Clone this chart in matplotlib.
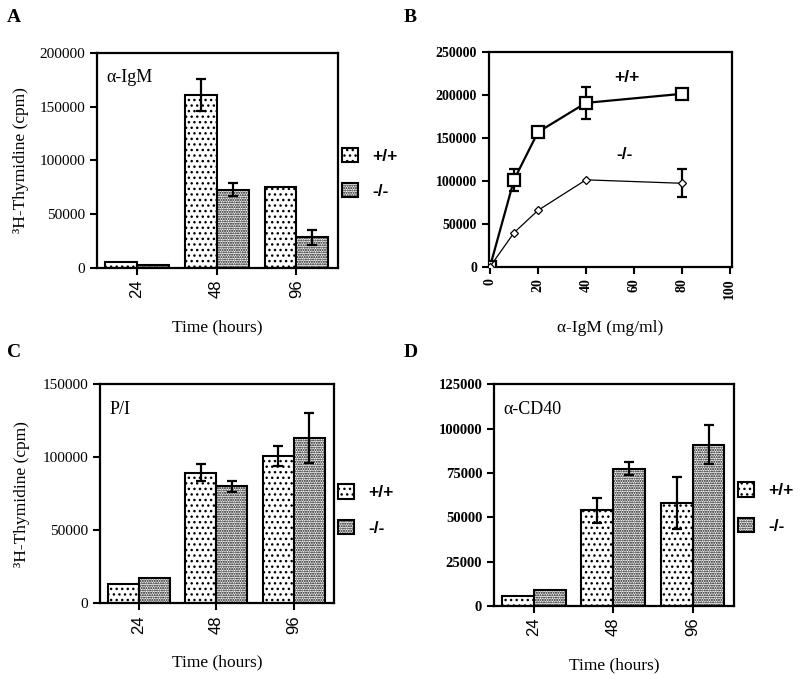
import numpy as np
import matplotlib
matplotlib.use('Agg')
import matplotlib.pyplot as plt
from matplotlib.patches import Patch

plt.rcParams['font.family'] = ['Liberation Serif', 'DejaVu Serif']
plt.rcParams['hatch.linewidth'] = 1.0

# time course data (cpm)
times = ['24', '48', '96']
igm_wt = [5500, 161000, 75000]
igm_wt_err = [0, 15000, 0]
igm_ko = [2500, 73000, 28500]
igm_ko_err = [0, 6000, 7000]

pi_wt = [13500, 89500, 101000]
pi_wt_err = [0, 6000, 7000]
pi_ko = [17500, 80000, 113000]
pi_ko_err = [0, 4000, 17000]

cd40_wt = [5800, 54000, 58000]
cd40_wt_err = [0, 7000, 14500]
cd40_ko = [9200, 77500, 91000]
cd40_ko_err = [0, 3500, 11000]

# dose response data
dose = [0, 10, 20, 40, 80]
dose_wt = [0, 101000, 156500, 190500, 201000]
dose_wt_err = [0, 12500, 0, 18500, 0]
dose_ko = [0, 39500, 65500, 101000, 97000]
dose_ko_err = [0, 0, 0, 0, 16500]

WT_HATCH = '...'
KO_HATCH = '.......'


def style_axes(ax):
    for s in ax.spines.values():
        s.set_linewidth(1.6)
    ax.tick_params(direction='out', length=5, width=1.5)


def bar_panel(ax, wt, wt_err, ko, ko_err, ylim, ystep, tag, ylab_x, leg_y, tick_fs, tick_bold):
    x = np.arange(len(times))
    w = 0.4
    ax.bar(x - w / 2, wt, w, color='white', edgecolor='black', linewidth=1.5, hatch=WT_HATCH)
    ax.bar(x + w / 2, ko, w, color='white', edgecolor='black', linewidth=1.5, hatch=KO_HATCH)
    wt_e = np.array(wt_err)
    ko_e = np.array(ko_err)
    m = wt_e > 0
    ax.errorbar((x - w / 2)[m], np.array(wt)[m], yerr=wt_e[m], fmt='none', ecolor='black',
                elinewidth=1.6, capsize=3.3, capthick=1.6, zorder=5)
    m = ko_e > 0
    ax.errorbar((x + w / 2)[m], np.array(ko)[m], yerr=ko_e[m], fmt='none', ecolor='black',
                elinewidth=1.6, capsize=3.3, capthick=1.6, zorder=5)
    ax.set_xlim(-0.5, 2.52)
    ax.set_ylim(0, ylim)
    ax.set_yticks(np.arange(0, ylim + 1, ystep))
    ax.set_xticks(x)
    ax.set_xticklabels(times, rotation=90, family='Liberation Sans', fontsize=12)
    for t in ax.get_yticklabels():
        t.set_fontsize(tick_fs)
        if tick_bold:
            t.set_fontweight('bold')
    style_axes(ax)
    ax.set_xlabel('Time (hours)', fontsize=12.5, labelpad=15)
    if ylab_x is not None:
        ax.set_ylabel('³H-Thymidine (cpm)', fontsize=12.5)
        ax.yaxis.set_label_coords(ylab_x, 0.5)
    ax.text(0.04, 0.865, tag, transform=ax.transAxes, fontsize=13)
    handles = [Patch(facecolor='white', edgecolor='black', linewidth=1.5, hatch=WT_HATCH),
               Patch(facecolor='white', edgecolor='black', linewidth=1.5, hatch=KO_HATCH)]
    ax.legend(handles, ['+/+', '-/-'], loc='center left', bbox_to_anchor=(1.015, leg_y),
              frameon=False, borderpad=0, borderaxespad=0, handlelength=0.95,
              handleheight=0.9, handletextpad=0.8, labelspacing=1.1,
              prop={'family': 'Liberation Sans', 'weight': 'bold', 'size': 12.5})


fig = plt.figure(figsize=(8, 6.74), dpi=100)

axA = fig.add_axes([0.121, 0.6024, 0.3015, 0.319])
bar_panel(axA, igm_wt, igm_wt_err, igm_ko, igm_ko_err, 200000, 50000,
          'α-IgM', -0.28, 0.44, 11, False)

axB = fig.add_axes([0.611, 0.6043, 0.3035, 0.319])
dw = np.array(dose_wt_err)
dk = np.array(dose_ko_err)
axB.plot(dose, dose_wt, color='black', linewidth=1.6, marker='s', markersize=8.5,
         markerfacecolor='white', markeredgecolor='black', markeredgewidth=1.6, zorder=4)
axB.plot(dose, dose_ko, color='black', linewidth=0.9, marker='D', markersize=4,
         markerfacecolor='white', markeredgecolor='black', markeredgewidth=0.9, zorder=4)
m = dw > 0
axB.errorbar(np.array(dose)[m], np.array(dose_wt)[m], yerr=dw[m], fmt='none', ecolor='black',
             elinewidth=1.6, capsize=3.5, capthick=1.6, zorder=3)
m = dk > 0
axB.errorbar(np.array(dose)[m], np.array(dose_ko)[m], yerr=dk[m], fmt='none', ecolor='black',
             elinewidth=1.6, capsize=3.5, capthick=1.6, zorder=3)
axB.set_xlim(-0.5, 100.7)
axB.set_ylim(0, 250000)
axB.set_xticks(np.arange(0, 101, 20))
axB.set_yticks(np.arange(0, 250001, 50000))
for t in axB.get_xticklabels():
    t.set_rotation(90)
for t in axB.get_xticklabels() + axB.get_yticklabels():
    t.set_fontsize(10)
    t.set_fontweight('bold')
style_axes(axB)
axB.set_xlabel('α-IgM (mg/ml)', fontsize=12.5, labelpad=15)
axB.text(57, 220500, '+/+', ha='center', va='center', family='Liberation Sans',
         fontweight='bold', fontsize=12.5)
axB.text(56, 130000, '-/-', ha='center', va='center', family='Liberation Sans',
         fontweight='bold', fontsize=12.5)

axC = fig.add_axes([0.125, 0.1049, 0.2925, 0.325])
bar_panel(axC, pi_wt, pi_wt_err, pi_ko, pi_ko_err, 150000, 50000,
          'P/I', -0.30, 0.426, 11, False)

axD = fig.add_axes([0.6175, 0.1009, 0.300, 0.329])
bar_panel(axD, cd40_wt, cd40_wt_err, cd40_ko, cd40_ko_err, 125000, 25000,
          'α-CD40', None, 0.442, 10.5, True)

for lab, x, y in [('A', 0.009, 0.967), ('B', 0.504, 0.967), ('C', 0.009, 0.47), ('D', 0.504, 0.47)]:
    fig.text(x, y, lab, fontsize=14, fontweight='bold', va='baseline')

fig.savefig('out.png', dpi=100)
